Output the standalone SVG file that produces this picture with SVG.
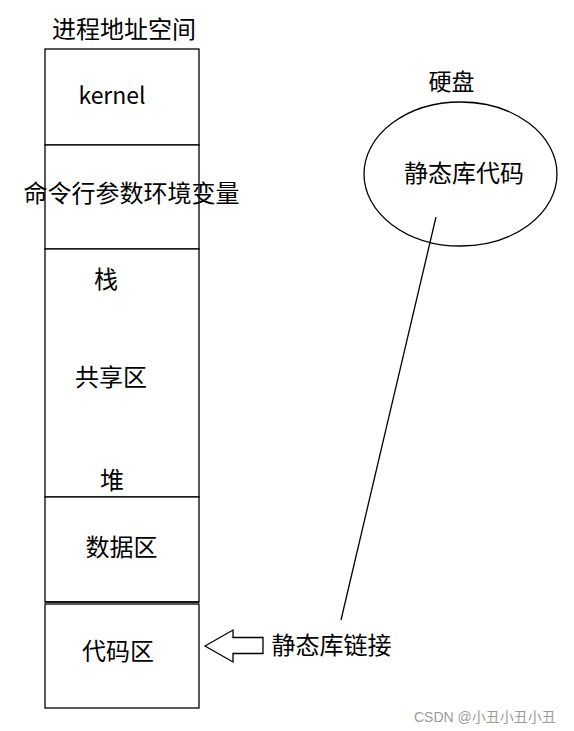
<svg xmlns="http://www.w3.org/2000/svg" width="574" height="731" viewBox="0 0 574 731">
<style>
.t{font-family:"Noto Sans CJK SC","Microsoft YaHei",sans-serif;font-size:24px;fill:#000;text-anchor:middle}
.box{fill:#fff;stroke:#000;stroke-width:1.3}
.ln{stroke:#000;stroke-width:1.3;fill:none}
</style>
<rect width="574" height="731" fill="#fff"/>
<text class="t" x="124" y="38">进程地址空间</text>
<g id="kernel"><rect class="box" x="45" y="49" width="154" height="96"/><text class="t" x="112" y="104" style="font-size:23px">kernel</text></g>
<g id="args"><rect class="box" x="45" y="145" width="154" height="104"/><text class="t" x="131.5" y="202">命令行参数环境变量</text></g>
<g id="stack-heap"><rect class="box" x="45" y="249" width="154" height="248"/><text class="t" x="106" y="288">栈</text><text class="t" x="111" y="386">共享区</text><text class="t" x="112" y="489">堆</text></g>
<g id="data"><rect class="box" x="45" y="497" width="154" height="105"/><text class="t" x="121.5" y="556">数据区</text></g>
<g id="code"><rect class="box" x="45" y="604" width="154" height="104"/><line class="ln" x1="45" y1="602" x2="199" y2="602"/><text class="t" x="118" y="660">代码区</text></g>
<g id="disk"><text class="t" x="451.5" y="90" style="font-size:23px">硬盘</text><ellipse class="box" cx="460.5" cy="174" rx="96.5" ry="72"/><text class="t" x="464" y="182">静态库代码</text></g>
<g id="connectors">
<line class="ln" x1="436" y1="217" x2="341" y2="620"/>
<polygon class="box" points="205,646 233,630 233,637.5 263,637.5 263,653.5 233,653.5 233,662"/>
</g>
<text class="t" x="331.5" y="654">静态库链接</text>
<text x="414" y="722" style="font-family:'Liberation Sans','Noto Sans CJK SC',sans-serif;font-size:14px;fill:#9a9a9a">CSDN @小丑小丑小丑</text>
</svg>
